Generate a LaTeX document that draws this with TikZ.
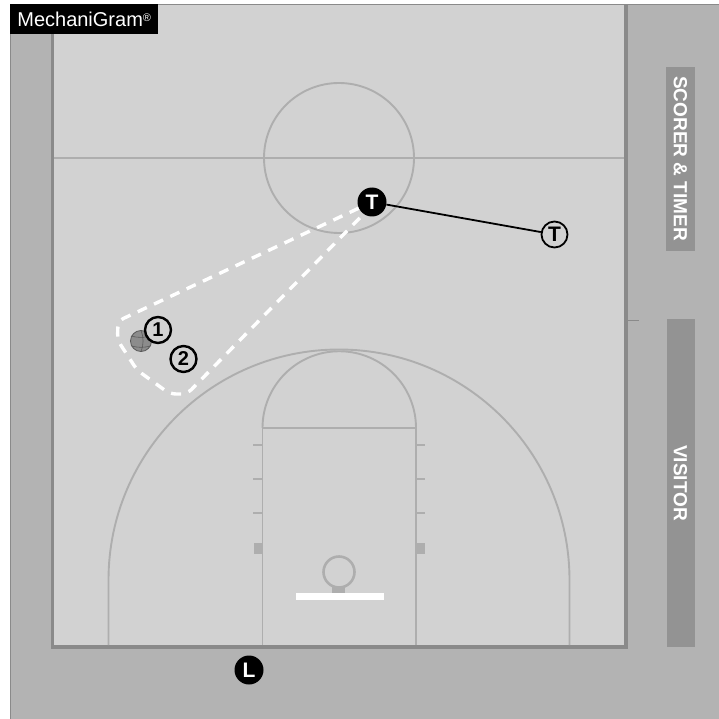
\documentclass[tikz,border=0pt]{standalone}
\usepackage{fontspec}
\setmainfont{Liberation Sans}
\definecolor{courtfill}{HTML}{D2D2D2}
\definecolor{apron}{HTML}{B3B3B3}
\definecolor{courtline}{HTML}{AEAEAE}
\definecolor{boundary}{HTML}{8A8A8A}
\definecolor{tablefill}{HTML}{939393}
\tikzset{
	paint/.style={line width=1.9pt,color=courtline},
	hash/.style={line width=2.6pt,color=courtline},
	player/.style={circle,draw=black,fill=courtfill,line width=2.4pt,minimum size=26pt,inner sep=0pt,font=\bfseries\fontsize{20}{20}\selectfont},
	official/.style={circle,draw=black,fill=courtfill,line width=1.8pt,minimum size=26pt,inner sep=0pt,font=\bfseries\fontsize{21}{21}\selectfont},
	referee/.style={circle,fill=black,text=white,minimum size=29pt,inner sep=0pt,font=\bfseries\fontsize{21}{21}\selectfont},
	tabletext/.style={rotate=-90,text=white,font=\bfseries\fontsize{19}{19}\selectfont},
}
\begin{document}
\begin{tikzpicture}[x=1pt,y=-1pt]
		\useasboundingbox (0,0) rectangle (719,719);
		\fill[white] (0,0) rectangle (719,719);
		\fill[apron] (10.5,4.5) rectangle (719,719);
		\draw[boundary,line width=1pt] (10.5,719)--(10.5,4.5)--(719,4.5);
		\fill[courtfill] (52,5) rectangle (626,647);
		\draw[boundary,line width=3.8pt] (52.5,5)--(52.5,647)--(626,647)--(626,5);
		\draw[boundary,line width=1.4pt] (628,320.5)--(639,320.5);
		\fill[tablefill] (666,67) rectangle (695,251);
		\fill[tablefill] (667,319) rectangle (695,647);
		\node[tabletext] (scorer) at (680.5,158.5) {SCORER \& TIMER};
		\node[tabletext] (visitor) at (680.5,483) {VISITOR};
		\node[fill=black,text=white,anchor=north west,minimum width=148pt,minimum height=30pt,inner sep=0pt,font=\fontsize{20}{20}\selectfont] (brand) at (10,4) {MechaniGram\raisebox{5pt}{\fontsize{11}{11}\selectfont\textregistered}};
		% half court
		\draw[paint] (54,158)--(624,158);
		\draw[paint] (339,158) circle(75);
		% three point line and key
		\draw[paint] (108.5,645)--(108.5,580) arc[start angle=180,end angle=360,radius=230.5]--(569.5,645);
		\draw[paint] (262.5,645)--(262.5,428)--(416,428)--(416,645);
		\draw[paint] (262.5,428) arc[start angle=180,end angle=360,radius=76.75];
		\foreach \yy in {445,479,513} {
			\draw[hash] (253,\yy)--(262,\yy);
			\draw[hash] (416,\yy)--(425,\yy);
		}
		\fill[courtline] (254,543) rectangle (262,554);
		\fill[courtline] (416,543) rectangle (425,554);
		% basket
		\draw[courtline,line width=2.6pt] (339,572) circle(15.5);
		\fill[courtline] (332,587) rectangle (345,594);
		\fill[white] (296,593) rectangle (383.5,600);
		% ball
		\node[circle,draw=black!65,fill=black!45,line width=0.8pt,minimum size=21pt,inner sep=0pt] (ball) at (141,341) {};
		\draw[black!65,line width=0.6pt] (131,336) to[bend right=14] (151,336);
		\draw[black!65,line width=0.6pt] (131.5,346) to[bend right=14] (150.5,346);
		\draw[black!65,line width=0.6pt] (141,330.5) to[bend left=20] (141,351.5);
		% players
		\node[player] (one) at (158,330) {1};
		\node[player] (two) at (183.5,359) {2};
		\node[referee] (trail) at (372,202) {T};
		\node[official] (trailold) at (554.5,234.5) {T};
		\node[referee] (lead) at (249,670) {L};
		\draw[black,line width=1.8pt] (trail)--(trailold);
		% pass lane
		\coordinate (lanea) at (118,321);
		\coordinate (laneb) at (117.5,340);
		\coordinate (lanec) at (137,370);
		\coordinate (laned) at (170,394);
		\coordinate (lanee) at (187,394);
		\draw[white,line width=3.4pt,dash pattern=on 10pt off 8pt,rounded corners=6pt] (trail.205)--(lanea)--(laneb)--(lanec)--(laned)--(lanee)--(trail.235);
\end{tikzpicture}
\end{document}
